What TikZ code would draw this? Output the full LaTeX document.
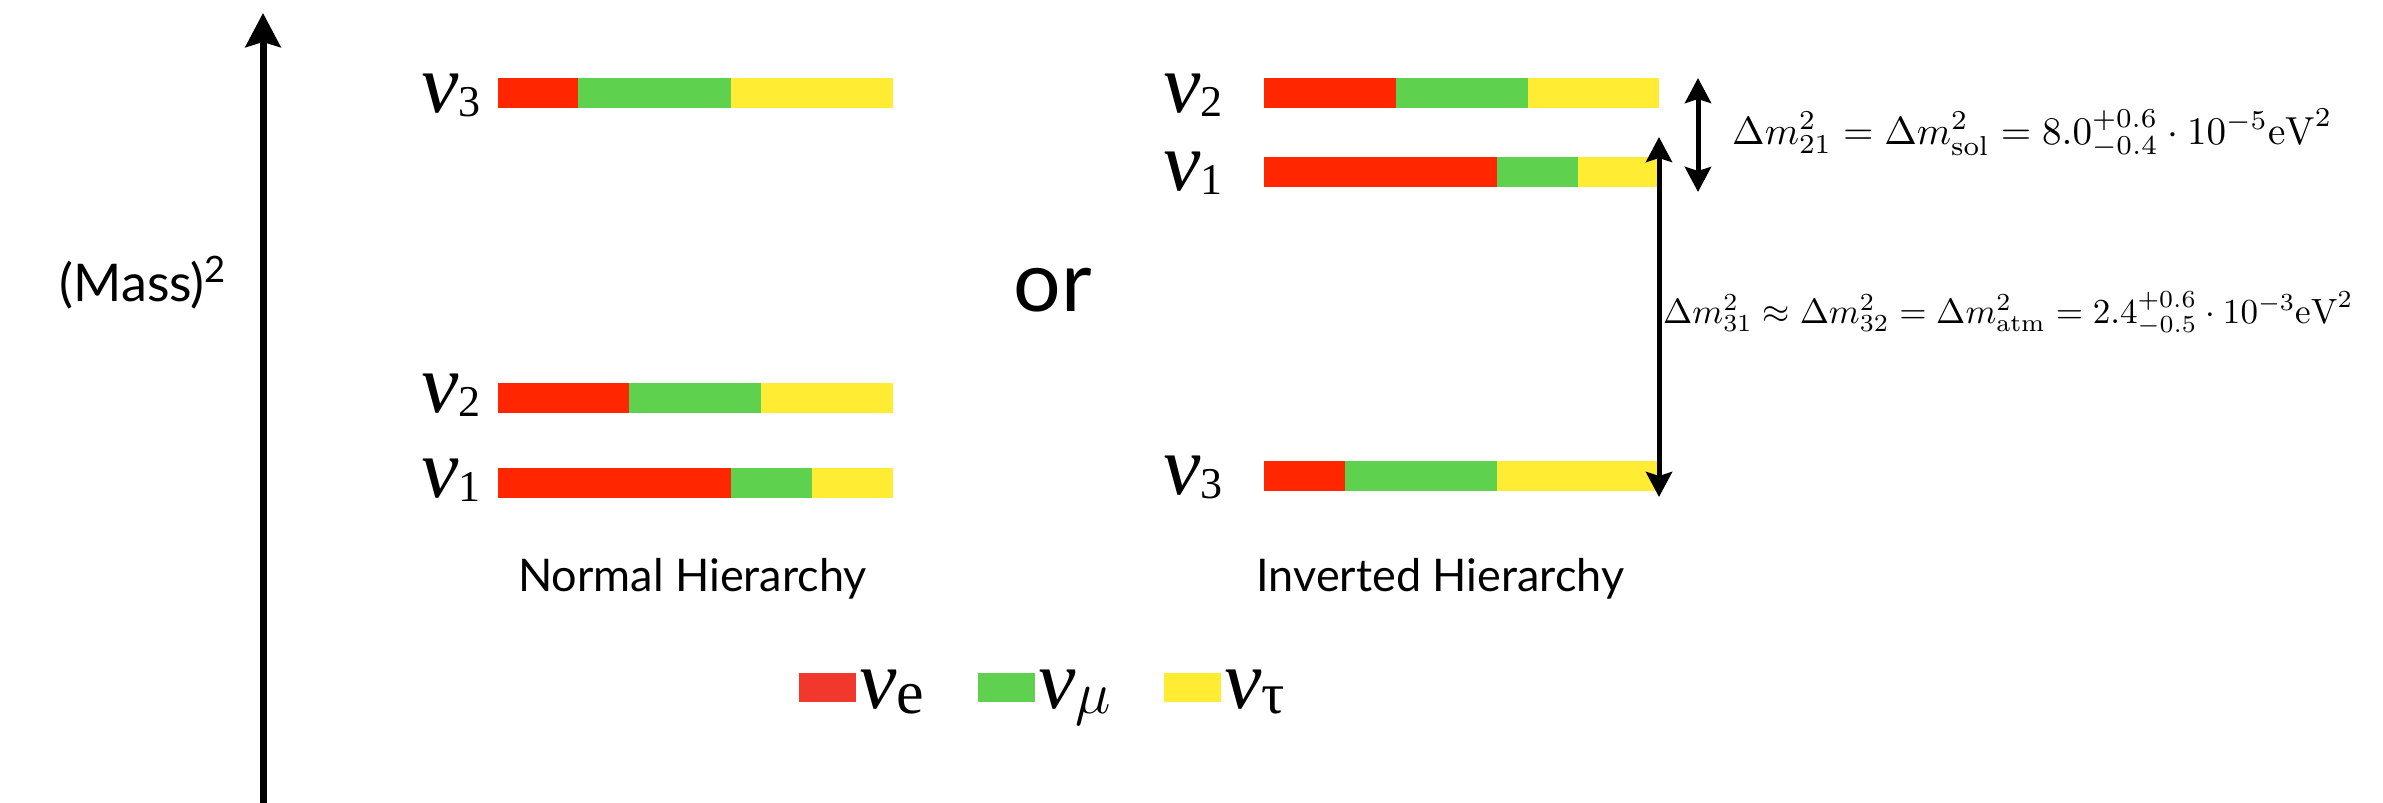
\RequirePackage{fix-cm}
\documentclass[tikz,border=0pt]{standalone}
\usepackage{graphicx}
\usepackage{fontspec}
\usetikzlibrary{arrows.meta}
\newfontfamily\gill{Lato}
\newfontfamily\tms{Liberation Serif}
\newfontfamily\tmsnu[FakeSlant=0.12]{Liberation Serif}
\definecolor{bred}{RGB}{255,38,0}
\definecolor{bgreen}{RGB}{94,210,78}
\definecolor{byellow}{RGB}{255,236,51}
\definecolor{lred}{RGB}{242,56,44}
% #1 left x, #2 top y, #3 red end offset, #4 green end offset
\newcommand\nubar[4]{%
  \fill[bred] (#1,#2) rectangle ({#1+#3},{#2+30});
  \fill[bgreen] ({#1+#3},#2) rectangle ({#1+#4},{#2+30});
  \fill[byellow] ({#1+#4},#2) rectangle ({#1+395},{#2+30});
}
\newcommand\bignu{{\fontsize{84}{84}\selectfont\tmsnu ν}\kern2pt}
\newcommand\nulab[1]{\bignu\raisebox{-4pt}{\fontsize{44}{44}\selectfont\tms #1}}
\tikzset{
  lab/.style={inner sep=0pt, anchor=base west},
  sanslab/.style={inner sep=0pt, anchor=base, font=\gill},
  arr/.style={line width=5pt, {Stealth[length=25pt,width=26pt,inset=4pt]}-{Stealth[length=25pt,width=26pt,inset=4pt]}},
  axis/.style={line width=7pt, -{Stealth[length=34pt,width=35pt,inset=5pt]}},
  legbox/.style={inner sep=0pt, minimum width=57pt, minimum height=29pt, anchor=north west},
}
\begin{document}
\begin{tikzpicture}[x=1pt,y=-1pt]
\useasboundingbox (0,0) rectangle (2383,803);
% axis
\coordinate (axbot) at (263,803);
\coordinate (axtop) at (263,13);
\draw[axis] (axbot) -- (axtop);
\node[sanslab] (mass) at (143,301) {\fontsize{52}{56}\selectfont (Mass)\textsuperscript{2}};
\node[sanslab] (or) at (1053,311) {\fontsize{84}{90}\selectfont or};
% normal hierarchy
\nubar{497.5}{78.3}{80.6}{233}
\nubar{497.5}{383.3}{131.5}{263.5}
\nubar{497.5}{468.3}{233}{314}
\node[lab] (n3) at (418,112) {\nulab{3}};
\node[lab] (n2) at (418,412) {\nulab{2}};
\node[lab] (n1) at (418,497) {\nulab{1}};
\node[sanslab] (nh) at (692.5,591) {\fontsize{45}{50}\selectfont Normal Hierarchy};
% inverted hierarchy
\nubar{1264}{78.3}{131.5}{263.5}
\nubar{1264}{156.7}{233}{314}
\nubar{1264}{460.7}{80.6}{233}
\node[lab] (i2) at (1160,112) {\nulab{2}};
\node[lab] (i1) at (1160,190) {\nulab{1}};
\node[lab] (i3) at (1160,494) {\nulab{3}};
\node[sanslab] (ih) at (1440.5,591) {\fontsize{45}{50}\selectfont Inverted Hierarchy};
% arrows
\coordinate (a1) at (1659,497);
\coordinate (a2) at (1659,137);
\draw[arr] (a1) -- (a2);
\coordinate (b1) at (1698,78);
\coordinate (b2) at (1698,192);
\draw[arr] (b1) -- (b2);
\node[lab] (sol) at (1732,144) {\resizebox{600pt}{!}{$\Delta m^2_{21} = \Delta m^2_{\rm sol} = 8.0^{+0.6}_{-0.4}\cdot 10^{-5}{\rm eV}^2$}};
\node[lab] (atm) at (1663,323) {\resizebox{690pt}{!}{$\Delta m^2_{31} \approx \Delta m^2_{32} = \Delta m^2_{\rm atm} = 2.4^{+0.6}_{-0.5}\cdot 10^{-3}{\rm eV}^2$}};
% legend
\node[legbox, fill=lred] (le) at (799,673) {};
\node[lab] (lee) at (856,708) {\bignu\raisebox{-5pt}{\fontsize{62}{62}\selectfont\tms e}};
\node[legbox, fill=bgreen] (lm) at (978,673) {};
\node[lab] (lmm) at (1035,708) {\bignu\raisebox{-5pt}{\fontsize{60}{60}\selectfont$\mu$}};
\node[legbox, fill=byellow] (lt) at (1164,673) {};
\node[lab] (ltt) at (1221,708) {\bignu\raisebox{-5pt}{\fontsize{58}{58}\selectfont\tms τ}};
\end{tikzpicture}
\end{document}
